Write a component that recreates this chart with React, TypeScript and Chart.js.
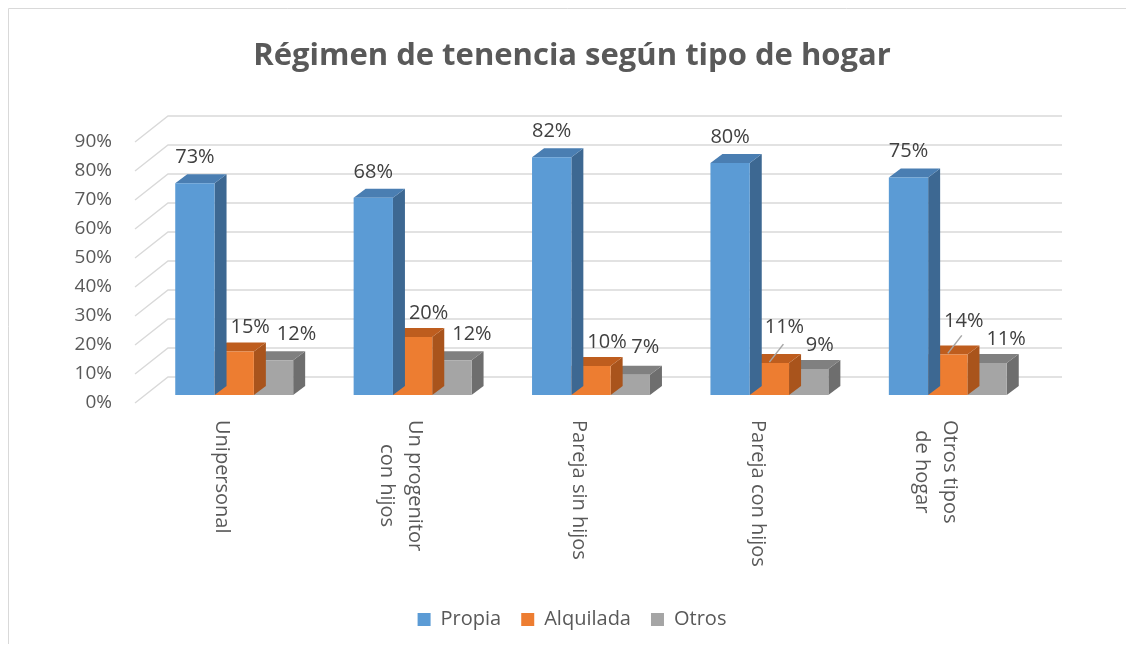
import React, { useEffect, useRef } from "react";
import { Chart, registerables } from "chart.js";
Chart.register(...registerables);

// ---- data ----
const categories: string[][] = [
  ["Unipersonal"],
  ["Un progenitor", "con hijos"],
  ["Pareja sin hijos"],
  ["Pareja con hijos"],
  ["Otros tipos", "de hogar"],
];
const seriesNames = ["Propia", "Alquilada", "Otros"];
const propia = [73, 68, 82, 80, 75];
const alquilada = [15, 20, 10, 11, 14];
const otros = [12, 12, 7, 9, 11];
const yTickValues = [0, 10, 20, 30, 40, 50, 60, 70, 80, 90];

// ---- styles ----
const FONT = "'Open Sans', 'Noto Sans', sans-serif";
const frontColors = ["#5B9BD5", "#ED7D31", "#A5A5A5"];
const topColors = ["#4A7EB2", "#BE5D1E", "#808080"];
const sideColors = ["#3D6892", "#A9541C", "#6E6E6E"];
const DEPTH_X = 12;
const DEPTH_Y = -9;

// label nudges relative to bar centre / front-top (pixels)
const seriesLabelShift = [
  [0, -26],
  [16, -24],
  [20, -25],
];
const pointLabelShift: Record<string, [number, number]> = {
  "1-3": [15, -36],
  "1-4": [16, -33],
  "2-0": [23, -26],
  "2-1": [20, -26],
  "2-2": [15, -27],
  "2-3": [11, -24],
  "2-4": [19, -24],
};
const leaderLines = new Set(["1-3", "1-4"]);

const threeD = {
  id: "threeD",
  beforeDraw(chart: any) {
    const { ctx, width, height } = chart;
    ctx.save();
    ctx.strokeStyle = "#D9D9D9";
    ctx.lineWidth = 1;
    ctx.beginPath();
    ctx.moveTo(0.5, height);
    ctx.lineTo(0.5, 0.5);
    ctx.lineTo(width, 0.5);
    ctx.stroke();
    ctx.restore();
  },
  beforeDatasetsDraw(chart: any) {
    const { ctx, chartArea, scales } = chart;
    const y = scales.y;
    ctx.save();
    ctx.strokeStyle = "#D9D9D9";
    ctx.lineWidth = 1.4;
    for (const v of yTickValues) {
      const py = y.getPixelForValue(v);
      ctx.beginPath();
      ctx.moveTo(chartArea.left - 10, py + 8);
      ctx.lineTo(chartArea.left + 23, py - 18);
      ctx.lineTo(chartArea.right + 25, py - 18);
      ctx.stroke();
    }
    ctx.restore();
  },
  beforeDatasetDraw(chart: any, args: any) {
    const { ctx } = chart;
    const i = args.index;
    const meta = chart.getDatasetMeta(i);
    ctx.save();
    meta.data.forEach((el: any) => {
      const { x, y, base, width } = el.getProps(["x", "y", "base", "width"], true);
      const l = x - width / 2;
      const r = x + width / 2;
      ctx.fillStyle = sideColors[i];
      ctx.beginPath();
      ctx.moveTo(r, y);
      ctx.lineTo(r + DEPTH_X, y + DEPTH_Y);
      ctx.lineTo(r + DEPTH_X, base + DEPTH_Y);
      ctx.lineTo(r, base);
      ctx.closePath();
      ctx.fill();
      ctx.fillStyle = topColors[i];
      ctx.beginPath();
      ctx.moveTo(l, y);
      ctx.lineTo(l + DEPTH_X, y + DEPTH_Y);
      ctx.lineTo(r + DEPTH_X, y + DEPTH_Y);
      ctx.lineTo(r, y);
      ctx.closePath();
      ctx.fill();
    });
    ctx.restore();
  },
  afterDatasetsDraw(chart: any) {
    const { ctx, chartArea, scales } = chart;
    ctx.save();
    ctx.font = `20px ${FONT}`;
    ctx.fillStyle = "#404040";
    ctx.textAlign = "center";
    ctx.textBaseline = "middle";
    chart.data.datasets.forEach((ds: any, i: number) => {
      const meta = chart.getDatasetMeta(i);
      meta.data.forEach((el: any, j: number) => {
        const { x, y } = el.getProps(["x", "y"], true);
        const key = `${i}-${j}`;
        const [dx, dy] = pointLabelShift[key] || seriesLabelShift[i];
        if (leaderLines.has(key)) {
          ctx.save();
          ctx.strokeStyle = "#A6A6A6";
          ctx.lineWidth = 1.5;
          ctx.beginPath();
          ctx.moveTo(x, y - 1);
          ctx.lineTo(x + 14, y - 19);
          ctx.stroke();
          ctx.restore();
        }
        ctx.fillText(`${ds.data[j]}%`, x + dx, y + dy);
      });
    });
    ctx.font = `20px ${FONT}`;
    ctx.fillStyle = "#595959";
    const xs = scales.x;
    const lh = 28;
    (chart.data.labels as string[][]).forEach((lines, j) => {
      const cx = xs.getPixelForValue(j) - 12;
      const top = chartArea.bottom + 25;
      const maxW = Math.max(...lines.map((s) => ctx.measureText(s).width));
      ctx.save();
      ctx.translate(cx, top);
      ctx.rotate(Math.PI / 2);
      ctx.textAlign = "center";
      ctx.textBaseline = "middle";
      lines.forEach((s, k) => {
        ctx.fillText(s, maxW / 2, (k - (lines.length - 1) / 2) * lh);
      });
      ctx.restore();
    });
    ctx.restore();
  },
};

export default function App() {
  const ref = useRef<HTMLCanvasElement>(null);
  useEffect(() => {
    const chart = new Chart(ref.current as HTMLCanvasElement, {
      type: "bar",
      data: {
        labels: categories,
        datasets: [propia, alquilada, otros].map((d, i) => ({
          label: seriesNames[i],
          data: d,
          backgroundColor: frontColors[i],
          borderWidth: 0,
          categoryPercentage: 0.661,
          barPercentage: 1,
          yAxisID: "y",
        })),
      },
      options: {
        responsive: false,
        animation: false,
        layout: { padding: { top: 0, left: 10, right: 0, bottom: 4.5 } },
        plugins: {
          title: {
            display: true,
            text: "Régimen de tenencia según tipo de hogar",
            color: "#595959",
            font: { family: FONT, size: 31, weight: "bold" },
            padding: { top: 30, bottom: 58.8 },
          },
          legend: {
            position: "bottom",
            labels: {
              color: "#595959",
              font: { family: FONT, size: 20 },
              boxWidth: 13,
              boxHeight: 13,
              padding: 20,
            },
          },
          tooltip: { enabled: false },
        },
        scales: {
          x: {
            grid: { display: false, drawTicks: false },
            border: { display: false },
            ticks: { display: false },
            afterFit: (s: any) => {
              s.height = 194.5;
            },
          },
          y: {
            min: 0,
            max: 90,
            grid: { display: false, drawTicks: false },
            border: { display: false },
            ticks: {
              stepSize: 10,
              padding: 33,
              labelOffset: 8,
              color: "#595959",
              font: { family: FONT, size: 19 },
              callback: (v: any) => `${v}%`,
            },
            afterFit: (s: any) => {
              s.width = 127;
            },
          },
          yR: {
            position: "right",
            grid: { display: false, drawTicks: false },
            border: { display: false },
            ticks: { display: false },
            afterFit: (s: any) => {
              s.width = 89;
            },
          },
        },
      },
      plugins: [threeD],
    } as any);
    return () => chart.destroy();
  }, []);
  return (
    <div style={{ width: 1118, height: 636 }}>
      <canvas ref={ref} width={1118} height={636} style={{ display: "block" }} />
    </div>
  );
}
